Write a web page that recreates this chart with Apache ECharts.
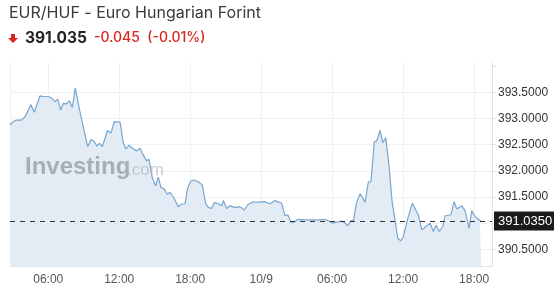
<!DOCTYPE html>
<html>
<head>
<meta charset="utf-8">
<script src="https://cdn.jsdelivr.net/npm/echarts@6/dist/echarts.min.js"></script>
<style>
html,body{margin:0;padding:0;background:#fff;}
#chart{width:554px;height:301px;}
</style>
</head>
<body>
<div id="chart"></div>
<script>
const titleText = 'EUR/HUF - Euro Hungarian Forint';
const priceText = '391.035';
const changeText = '-0.045  (-0.01%)';
const lastPrice = 391.035;
const xMin = '2025-10-08 02:46';
const xMax = '2025-10-09 19:31';
const yMin = 390.18;
const yMax = 394.06;
const yStep = 0.5;
const xStepHours = 6;

const times = [
 '2025-10-08 02:46','2025-10-08 03:02','2025-10-08 03:20','2025-10-08 03:45','2025-10-08 04:02',
 '2025-10-08 04:32','2025-10-08 04:49','2025-10-08 05:18','2025-10-08 05:35','2025-10-08 06:00',
 '2025-10-08 06:17','2025-10-08 06:34','2025-10-08 06:48','2025-10-08 07:03','2025-10-08 07:16',
 '2025-10-08 07:33','2025-10-08 07:47','2025-10-08 08:02','2025-10-08 08:17','2025-10-08 08:41',
 '2025-10-08 09:01','2025-10-08 09:20','2025-10-08 09:37','2025-10-08 09:53','2025-10-08 10:07',
 '2025-10-08 10:19','2025-10-08 10:34','2025-10-08 11:01','2025-10-08 11:18','2025-10-08 11:35',
 '2025-10-08 12:04','2025-10-08 12:21','2025-10-08 12:34','2025-10-08 12:51','2025-10-08 13:03',
 '2025-10-08 13:29','2025-10-08 13:45','2025-10-08 14:02','2025-10-08 14:19','2025-10-08 14:31',
 '2025-10-08 14:48','2025-10-08 15:05','2025-10-08 15:18','2025-10-08 15:32','2025-10-08 15:49',
 '2025-10-08 16:04','2025-10-08 16:18','2025-10-08 16:39','2025-10-08 17:00','2025-10-08 17:13',
 '2025-10-08 17:34','2025-10-08 17:47','2025-10-08 18:04','2025-10-08 18:21','2025-10-08 18:41',
 '2025-10-08 19:01','2025-10-08 19:19','2025-10-08 19:32','2025-10-08 19:49','2025-10-08 20:02',
 '2025-10-08 20:23','2025-10-08 20:40','2025-10-08 20:48','2025-10-08 21:05','2025-10-08 21:22',
 '2025-10-08 21:47','2025-10-08 22:13','2025-10-08 22:35','2025-10-08 22:52','2025-10-08 23:15',
 '2025-10-08 23:46','2025-10-09 00:16','2025-10-09 00:45','2025-10-09 01:10','2025-10-09 01:44',
 '2025-10-09 02:01','2025-10-09 02:15','2025-10-09 02:31','2025-10-09 02:48','2025-10-09 03:05',
 '2025-10-09 03:42','2025-10-09 04:16','2025-10-09 04:50','2025-10-09 05:20','2025-10-09 05:38',
 '2025-10-09 06:01','2025-10-09 06:23','2025-10-09 06:49','2025-10-09 07:05','2025-10-09 07:19',
 '2025-10-09 07:36','2025-10-09 07:48','2025-10-09 08:05','2025-10-09 08:22','2025-10-09 08:47',
 '2025-10-09 09:04','2025-10-09 09:17','2025-10-09 09:34','2025-10-09 09:46','2025-10-09 10:03',
 '2025-10-09 10:17','2025-10-09 10:32','2025-10-09 10:49','2025-10-09 11:05','2025-10-09 11:19',
 '2025-10-09 11:33','2025-10-09 11:48','2025-10-09 12:01','2025-10-09 12:24','2025-10-09 12:47',
 '2025-10-09 13:04','2025-10-09 13:17','2025-10-09 13:35','2025-10-09 13:51','2025-10-09 14:17',
 '2025-10-09 14:33','2025-10-09 14:47','2025-10-09 15:04','2025-10-09 15:21','2025-10-09 15:33',
 '2025-10-09 16:03','2025-10-09 16:19','2025-10-09 16:32','2025-10-09 16:58','2025-10-09 17:14',
 '2025-10-09 17:35','2025-10-09 17:48','2025-10-09 18:05','2025-10-09 18:30','2025-10-09 18:36'
];
const values = [
 392.88,392.94,392.97,392.97,393.03,
 393.26,393.12,393.43,393.42,393.42,
 393.39,393.32,393.37,393.16,393.29,
 393.28,393.34,393.21,393.58,393.13,
 392.78,392.46,392.60,392.56,392.47,
 392.53,392.46,392.77,392.72,392.94,
 392.93,392.53,392.42,392.49,392.44,
 392.38,392.43,392.30,392.19,392.22,
 391.86,391.71,391.88,391.68,391.65,
 391.55,391.59,391.47,391.31,391.36,
 391.37,391.67,391.81,391.82,391.79,
 391.73,391.37,391.30,391.28,391.39,
 391.37,391.33,391.43,391.28,391.33,
 391.30,391.31,391.25,391.35,391.40,
 391.40,391.41,391.37,391.43,391.38,
 391.14,391.16,391.02,391.02,391.07,
 391.06,391.06,391.06,391.07,391.05,
 391.00,391.02,391.04,391.00,390.95,
 391.05,391.05,391.41,391.56,391.40,
 391.79,391.79,392.56,392.57,392.77,
 392.54,392.63,392.08,391.38,391.06,
 390.71,390.66,390.74,391.09,391.38,
 391.25,391.16,390.87,390.92,391.00,
 390.84,390.96,390.84,390.93,391.14,
 391.16,391.41,391.27,391.33,391.24,
 390.90,391.24,391.12,391.05,391.035
];

// parse 'YYYY-MM-DD HH:MM' as UTC milliseconds
function toMs(s) {
  const p = s.split(/[- :]/).map(Number);
  return Date.UTC(p[0], p[1] - 1, p[2], p[3], p[4]);
}
const pad = n => (n < 10 ? '0' : '') + n;
const seriesData = times.map((t, i) => [toMs(t), values[i]]);
const H = 3600 * 1000;

const chart = echarts.init(document.getElementById('chart'), null, {renderer: 'canvas'});

chart.setOption({
  animation: false,
  backgroundColor: '#ffffff',
  grid: {left: 10, right: 62, top: 63, bottom: 35, containLabel: false},
  graphic: [
    {type: 'text', left: 9, top: 5, style: {text: titleText, font: '16px Inter, "Noto Sans", sans-serif', fill: '#3a3a3a'}},
    {type: 'polygon', shape: {points: [[11,34],[15,34],[15,38],[18,38],[13,43],[8,38],[11,38]]}, style: {fill: '#d9261c'}},
    {type: 'text', left: 25, top: 30, style: {text: priceText, font: 'bold 15.5px Inter, "Noto Sans", sans-serif', fill: '#222'}},
    {type: 'text', left: 94, top: 31, style: {text: changeText, font: '500 14px Inter, "Noto Sans", sans-serif', fill: '#d9261c'}},
    {type: 'text', left: 25, top: 155, z: 100, style: {text: 'Investing', font: 'bold 24px "Liberation Sans", Arial, sans-serif', fill: 'rgba(150,153,156,0.75)'}},
    {type: 'text', left: 127, top: 162, z: 100, style: {text: '.com', font: '17px "Liberation Sans", Arial, sans-serif', fill: 'rgba(170,174,178,0.6)'}}
  ],
  xAxis: {
    type: 'value',
    min: toMs(xMin),
    max: toMs(xMax),
    minInterval: xStepHours * H,
    maxInterval: xStepHours * H,
    axisLine: {show: true, lineStyle: {color: '#dfe3e6', width: 1}},
    axisTick: {show: false},
    splitLine: {show: true, lineStyle: {color: '#eef1f3', width: 1}},
    axisLabel: {
      color: '#555',
      fontSize: 12,
      fontFamily: '"Liberation Sans", Arial, sans-serif',
      margin: 8,
      showMinLabel: false,
      showMaxLabel: false,
      formatter: function (v) {
        const d = new Date(v);
        if (d.getUTCHours() === 0 && d.getUTCMinutes() === 0) return (d.getUTCMonth() + 1) + '/' + d.getUTCDate();
        return pad(d.getUTCHours()) + ':' + pad(d.getUTCMinutes());
      }
    }
  },
  yAxis: {
    type: 'value',
    position: 'right',
    min: yMin,
    max: yMax,
    minInterval: yStep,
    maxInterval: yStep,
    axisLine: {show: true, lineStyle: {color: '#dfe3e6', width: 1}},
    axisTick: {show: true, length: 4, lineStyle: {color: '#dfe3e6'}},
    splitLine: {show: true, lineStyle: {color: ['#eef1f3','#eef1f3','#eef1f3','#eef1f3','#eef1f3','#eef1f3','#eef1f3','#eef1f3','rgba(0,0,0,0)','rgba(0,0,0,0)'], width: 1}},
    axisLabel: {
      color: '#333',
      fontSize: 12,
      fontFamily: '"Liberation Sans", Arial, sans-serif',
      margin: 6,
      showMinLabel: false,
      showMaxLabel: false,
      formatter: function (v) {
        if (Math.abs(v - 391) < 1e-6 || v > 393.75) return '';
        return v.toFixed(4);
      }
    }
  },
  series: [{
    type: 'line',
    data: seriesData,
    showSymbol: false,
    symbol: 'none',
    lineStyle: {color: '#78a6cf', width: 1.2},
    areaStyle: {color: '#e3ecf4', opacity: 1, origin: 'start'},
    markLine: {
      silent: true,
      symbol: ['none', 'none'],
      data: [{yAxis: lastPrice}],
      lineStyle: {color: '#333', type: [5, 5], width: 1},
      label: {
        show: true,
        position: 'end',
        distance: 2,
        formatter: lastPrice.toFixed(4),
        color: '#fff',
        backgroundColor: '#1b1b1b',
        fontSize: 13,
        fontFamily: '"Liberation Sans", Arial, sans-serif',
        padding: [3, 5, 3, 4]
      }
    }
  }]
});
</script>
</body>
</html>
